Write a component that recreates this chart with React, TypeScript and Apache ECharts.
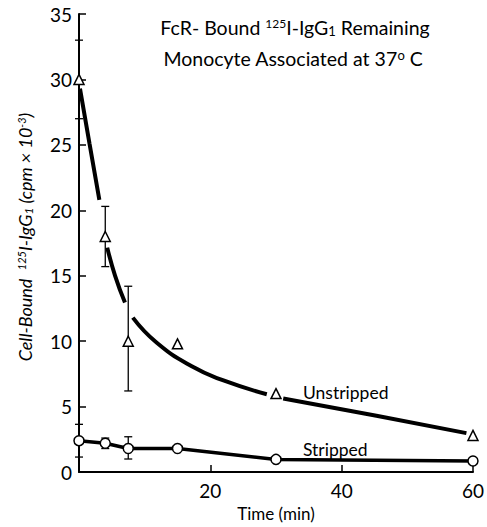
import React, { useEffect, useRef } from "react";
import * as echarts from "echarts";

// Time points (min)
const timeMin = [0, 4, 7.5, 15, 30, 60];
// Unstripped (triangles), cpm x 10^-3
const unstripped = [30, 18, 10, 9.8, 6, 2.8];
const unstrippedErrLow = [27, 15.7, 6.2, null, null, null];
const unstrippedErrHigh = [33, 20.3, 14.2, null, null, null];
// Stripped (circles)
const stripped = [2.4, 2.2, 1.8, 1.8, 0.97, 0.85];
const strippedErrLow = [1.15, 1.8, 1.0, null, null, null];
const strippedErrHigh = [3.65, 2.6, 2.7, null, null, null];
// Fitted curve through unstripped data (drawn in broken pieces)
const fitSeg1 = [[0.15, 29.3], [1.6, 25.1], [3.1, 20.8]];
const fitSeg2 = [[4.3, 17.15], [5.5, 15.0], [7.0, 12.95]];
const fitSeg3 = [[8.2, 11.8], [11.8, 9.9], [17.1, 8.1], [22.0, 7.0], [28.6, 5.95]];
const fitSeg4 = [[31.1, 5.62], [45.3, 4.3], [59.0, 2.98]];

const xTicks = { min: 0, max: 60, interval: 20 };
const yTicks = { min: 0, max: 35, interval: 5 };

const FONT = "Lato";

export default function App() {
  const ref = useRef<HTMLDivElement>(null);
  useEffect(() => {
    if (!ref.current) return;
    const chart = echarts.init(ref.current, null, { renderer: "svg" });

    const errData = (lo: (number | null)[], hi: (number | null)[]) =>
      timeMin
        .map((t, i) => (lo[i] != null && hi[i] != null ? [t, lo[i], hi[i]] : null))
        .filter((d) => d !== null);

    const errRender = (params: any, api: any) => {
      const x = api.value(0);
      const lo = api.value(1);
      const hi = api.value(2);
      const p1 = api.coord([x, hi]);
      const p2 = api.coord([x, lo]);
      const w = 4;
      const st = { stroke: "#000", lineWidth: 1.3 };
      return {
        type: "group",
        children: [
          { type: "line", shape: { x1: p1[0], y1: p1[1], x2: p2[0], y2: p2[1] }, style: st },
          { type: "line", shape: { x1: p1[0] - w, y1: p1[1], x2: p1[0] + w, y2: p1[1] }, style: st },
          { type: "line", shape: { x1: p2[0] - w, y1: p2[1], x2: p2[0] + w, y2: p2[1] }, style: st },
        ],
      };
    };

    const fitSeries = [fitSeg1, fitSeg2, fitSeg3, fitSeg4].map((seg) => ({
      type: "line",
      data: seg,
      smooth: true,
      symbol: "none",
      lineStyle: { color: "#000", width: 4 },
      z: 2,
    }));

    const axisText = { color: "#000", fontSize: 19, fontFamily: FONT };

    chart.setOption({
      animation: false,
      backgroundColor: "#fff",
      grid: { left: 79, right: 14, top: 14, bottom: 54 },
      xAxis: {
        type: "value",
        ...xTicks,
        name: "Time (min)",
        nameLocation: "middle",
        nameGap: 32,
        nameTextStyle: { color: "#000", fontSize: 17, fontFamily: FONT },
        axisLine: { lineStyle: { color: "#000", width: 2 } },
        axisTick: { inside: true, length: 7, lineStyle: { color: "#000", width: 1.5 } },
        axisLabel: { ...axisText, margin: 9, showMinLabel: false },
        splitLine: { show: false },
      },
      yAxis: {
        type: "value",
        ...yTicks,
        axisLine: { lineStyle: { color: "#000", width: 2 } },
        axisTick: { inside: true, length: 7, lineStyle: { color: "#000", width: 1.5 } },
        axisLabel: { ...axisText, margin: 7 },
        splitLine: { show: false },
      },
      graphic: [
        {
          type: "text",
          x: 295,
          y: 27,
          style: {
            text: "{a|FcR- Bound }{s|125}{a|I-IgG}{b|1}{a| Remaining}",
            align: "center",
            verticalAlign: "middle",
            fill: "#000",
            rich: {
              a: { fontSize: 19.5, fontFamily: FONT, fill: "#000" },
              s: { fontSize: 12, fontFamily: FONT, fill: "#000", verticalAlign: "top" },
              b: { fontSize: 13, fontFamily: FONT, fill: "#000", verticalAlign: "bottom" },
            },
          },
        },
        {
          type: "text",
          x: 293,
          y: 58,
          style: {
            text: "{a|Monocyte Associated at 37}{s|o}{a| C}",
            align: "center",
            verticalAlign: "middle",
            fill: "#000",
            rich: {
              a: { fontSize: 19.5, fontFamily: FONT, fill: "#000" },
              s: { fontSize: 13, fontFamily: FONT, fill: "#000", verticalAlign: "top" },
            },
          },
        },
        {
          type: "text",
          x: 25,
          y: 237,
          rotation: Math.PI / 2,
          style: {
            text: "{a|Cell-Bound  }{s|125}{a|I-IgG}{b|1}{a| (cpm × 10}{s|-3}{a|)}",
            align: "center",
            verticalAlign: "middle",
            fill: "#000",
            rich: {
              a: { fontSize: 18, fontFamily: FONT, fontStyle: "italic", fill: "#000" },
              s: { fontSize: 11, fontFamily: FONT, fontStyle: "italic", fill: "#000", verticalAlign: "top" },
              b: { fontSize: 12, fontFamily: FONT, fontStyle: "italic", fill: "#000", verticalAlign: "bottom" },
            },
          },
        },
        {
          type: "text",
          x: 303,
          y: 392,
          style: { text: "Unstripped", fontSize: 17.5, fontFamily: FONT, fill: "#000", verticalAlign: "middle" },
        },
        {
          type: "text",
          x: 303,
          y: 449,
          style: { text: "Stripped", fontSize: 17.5, fontFamily: FONT, fill: "#000", verticalAlign: "middle" },
        },
      ],
      series: [
        ...fitSeries,
        {
          type: "custom",
          renderItem: errRender,
          data: errData(unstrippedErrLow, unstrippedErrHigh),
          z: 1,
        },
        {
          type: "custom",
          renderItem: errRender,
          data: errData(strippedErrLow, strippedErrHigh),
          z: 1,
        },
        {
          type: "scatter",
          data: timeMin.map((t, i) => [t, unstripped[i]]),
          symbol: "triangle",
          symbolSize: 10,
          itemStyle: { color: "#fff", borderColor: "#000", borderWidth: 1.5, opacity: 1 },
          z: 5,
        },
        {
          type: "line",
          data: timeMin.map((t, i) => [t, stripped[i]]),
          symbol: "circle",
          symbolSize: 10,
          showSymbol: true,
          showAllSymbol: true,
          lineStyle: { color: "#000", width: 3.5 },
          itemStyle: { color: "#fff", borderColor: "#000", borderWidth: 1.5 },
          z: 5,
        },
      ],
    });
    return () => chart.dispose();
  }, []);
  return <div ref={ref} style={{ width: 487, height: 527, position: "absolute", left: 0, top: 0 }} />;
}
